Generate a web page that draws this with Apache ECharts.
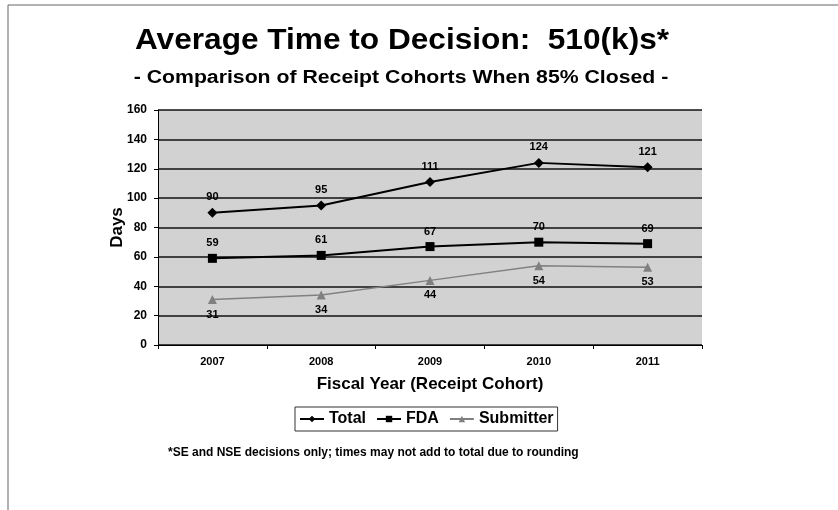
<!DOCTYPE html>
<html>
<head>
<meta charset="utf-8">
<script src="https://cdn.jsdelivr.net/npm/echarts@6/dist/echarts.min.js"></script>
<style>
  html, body { margin: 0; padding: 0; background: #fff; }
  #main { width: 838px; height: 510px; }
</style>
</head>
<body>
<div id="main"></div>
<script>
// 数据
var years = ['2007', '2008', '2009', '2010', '2011'];
var totalDays = [90, 95, 111, 124, 121];
var fdaDays = [59, 61, 67, 70, 69];
var submitterDays = [31, 34, 44, 54, 53];

var FONT = 'Liberation Sans, Arial, sans-serif';
var chart = echarts.init(document.getElementById('main'));

// 标签样式
function pointLabel(pos) {
    return { show: true, position: pos, distance: 5, fontSize: 11, fontWeight: 'bold', color: '#000' };
}

var option = {
    backgroundColor: '#fff',
    textStyle: { fontFamily: FONT },
    // 标题文字比原图略窄，用 scaleX 拉宽
    graphic: [{
        type: 'polyline',
        shape: { points: [[8, 510], [8, 5], [838, 5]] },
        style: { stroke: '#666', lineWidth: 1, fill: null }
    }, {
        type: 'text', x: 402, y: 41, scaleX: 1.09,
        style: {
            text: 'Average Time to Decision:  510(k)s*',
            font: 'bold 29px ' + FONT, fill: '#000',
            textAlign: 'center', textVerticalAlign: 'middle'
        }
    }, {
        type: 'text', x: 401, y: 78, scaleX: 1.18,
        style: {
            text: '- Comparison of Receipt Cohorts When 85% Closed -',
            font: 'bold 18px ' + FONT, fill: '#000',
            textAlign: 'center', textVerticalAlign: 'middle'
        }
    }, {
        type: 'text', x: 168, y: 453,
        style: {
            text: '*SE and NSE decisions only; times may not add to total due to rounding',
            font: 'bold 12px ' + FONT, fill: '#000',
            textAlign: 'left', textVerticalAlign: 'middle'
        }
    }],
    legend: {
        data: ['Total', 'FDA', 'Submitter'],
        left: 295, top: 407,
        itemWidth: 24, itemHeight: 8, itemGap: 10,
        padding: [4, 4],
        borderColor: '#333', borderWidth: 1,
        textStyle: { fontSize: 16, fontWeight: 'bold', color: '#000' }
    },
    grid: { left: 158, right: 136, top: 110, bottom: 165 },
    xAxis: {
        type: 'category',
        data: years,
        name: 'Fiscal Year (Receipt Cohort)',
        nameLocation: 'middle', nameGap: 31,
        nameTextStyle: { fontSize: 17, fontWeight: 'bold', color: '#000' },
        axisLine: { lineStyle: { color: '#000' } },
        axisTick: { show: true, length: 4, lineStyle: { color: '#000' } },
        axisLabel: { fontSize: 11, fontWeight: 'bold', color: '#000', margin: 11 }
    },
    yAxis: {
        type: 'value',
        min: 0, max: 160, interval: 20,
        name: 'Days',
        nameLocation: 'middle', nameGap: 32, nameRotate: 90,
        nameMoveOverlap: false,
        nameTextStyle: { fontSize: 17, fontWeight: 'bold', color: '#000' },
        axisLine: { show: true, lineStyle: { color: '#000' } },
        axisTick: { show: true, length: 4, lineStyle: { color: '#000' } },
        axisLabel: { fontSize: 12, fontWeight: 'bold', color: '#000', margin: 11 },
        splitLine: { lineStyle: { color: '#111', width: 1.5 } },
        splitArea: { show: true, areaStyle: { color: ['#d2d2d2', '#d2d2d2'] } }
    },
    series: [{
        name: 'Total', type: 'line', data: totalDays,
        symbol: 'diamond', symbolSize: 10,
        itemStyle: { color: '#000' },
        lineStyle: { color: '#000', width: 2 },
        label: pointLabel('top')
    }, {
        name: 'FDA', type: 'line', data: fdaDays,
        symbol: 'rect', symbolSize: 9,
        itemStyle: { color: '#000' },
        lineStyle: { color: '#000', width: 2 },
        label: pointLabel('top')
    }, {
        name: 'Submitter', type: 'line', data: submitterDays,
        symbol: 'triangle', symbolSize: 9,
        itemStyle: { color: '#808080' },
        lineStyle: { color: '#808080', width: 1.5 },
        label: pointLabel('bottom')
    }]
};
chart.setOption(option);
</script>
</body>
</html>
